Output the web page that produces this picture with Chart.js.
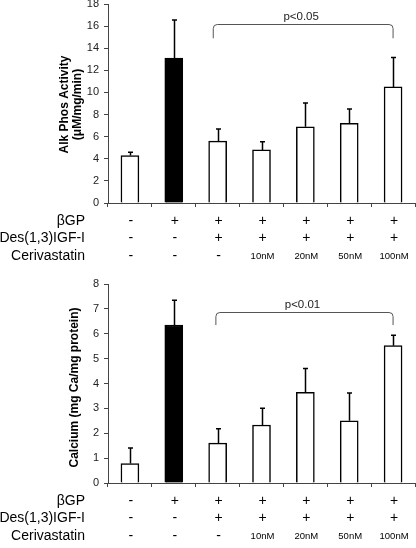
<!DOCTYPE html>
<html>
<head>
<meta charset="utf-8">
<script src="https://cdn.jsdelivr.net/npm/chart.js@4.4.1/dist/chart.umd.min.js"></script>
<style>
  html, body { margin: 0; padding: 0; background: #fff; }
  body { width: 416px; height: 548px; position: relative; overflow: hidden; }
  .panel { position: absolute; left: 0; width: 416px; }
  #alpBox { top: -10px; height: 280px; }
  #caBox { top: 270px; height: 278px; }
</style>
</head>
<body>
<div class="panel" id="alpBox"><canvas id="alpChart"></canvas></div>
<div class="panel" id="caBox"><canvas id="caChart"></canvas></div>
<script>
const columns = ['control', 'bGP', 'bGP+IGF', 'cer10', 'cer20', 'cer50', 'cer100']
const rowNames = ['βGP', 'Des(1,3)IGF-I', 'Cerivastatin']
const bgpRow = ['-', '+', '+', '+', '+', '+', '+']
const igfRow = ['-', '-', '+', '+', '+', '+', '+']
const cerivRow = ['-', '-', '-', '10nM', '20nM', '50nM', '100nM']

const alpValues = [4.3, 13.1, 5.6, 4.8, 6.9, 7.2, 10.5]
const alpErrors = [0.3, 3.45, 1.1, 0.75, 2.15, 1.3, 2.65]
const alpTicks = [0, 2, 4, 6, 8, 10, 12, 14, 16, 18]
const alpBracket = [1.9, 6, 16.2, 14.9]
const alpSig = 'p<0.05'
const alpTitle = ['Alk Phos Activity', '(μM/mg/min)']

const caValues = [0.78, 6.35, 1.6, 2.33, 3.65, 2.5, 5.52]
const caErrors = [0.63, 1.0, 0.58, 0.68, 0.95, 1.12, 0.42]
const caTicks = [0, 1, 2, 3, 4, 5, 6, 7, 8]
const caBracket = [1.96, 6, 6.86, 6.35]
const caSig = 'p<0.01'
const caTitle = ['Calcium (mg Ca/mg protein)']

const FONT = '"Liberation Sans", Arial, sans-serif'

function extrasPlugin(errors, bracket, sig, title, titleX, titleDy) {
    return {
        id: 'extras',
        afterDraw(chart) {
            const ctx = chart.ctx
            const xs = chart.scales.x
            const ys = chart.scales.y
            const meta = chart.getDatasetMeta(0)
            const values = chart.data.datasets[0].data
            ctx.save()

            // error bars
            ctx.strokeStyle = '#000'
            ctx.lineWidth = 1.5
            meta.data.forEach((bar, i) => {
                const x = Math.round(bar.x) + 0.5
                const y0 = ys.getPixelForValue(values[i])
                const y1 = ys.getPixelForValue(values[i] + errors[i])
                ctx.beginPath()
                ctx.moveTo(x, y0)
                ctx.lineTo(x, y1)
                ctx.moveTo(x - 2.5, y1)
                ctx.lineTo(x + 2.5, y1)
                ctx.stroke()
            })

            // significance bracket
            const bx0 = xs.getPixelForValue(bracket[0])
            const bx1 = xs.getPixelForValue(bracket[1])
            const by = Math.round(ys.getPixelForValue(bracket[2])) + 0.5
            const bf = ys.getPixelForValue(bracket[3])
            const r = 4
            ctx.strokeStyle = '#555'
            ctx.lineWidth = 1
            ctx.beginPath()
            ctx.moveTo(bx0, bf)
            ctx.lineTo(bx0, by + r)
            ctx.quadraticCurveTo(bx0, by, bx0 + r, by)
            ctx.lineTo(bx1 - r, by)
            ctx.quadraticCurveTo(bx1, by, bx1, by + r)
            ctx.lineTo(bx1, bf)
            ctx.stroke()
            ctx.fillStyle = '#222'
            ctx.font = '11.5px ' + FONT
            ctx.textAlign = 'center'
            ctx.textBaseline = 'middle'
            ctx.fillText(sig, (bx0 + bx1) / 2 - 2, by - 8)

            // treatment table under the axis
            const rows = [bgpRow, igfRow, cerivRow]
            const rowY = [18, 35.5, 53]
            ctx.fillStyle = '#000'
            rows.forEach((row, r) => {
                const y = chart.chartArea.bottom + rowY[r]
                ctx.font = '14px ' + FONT
                ctx.textAlign = 'right'
                ctx.fillText(rowNames[r], 85, y)
                ctx.textAlign = 'center'
                row.forEach((s, i) => {
                    ctx.font = (s.length > 1 ? '9.5px ' : '14px ') + FONT
                    ctx.fillText(s, meta.data[i].x + 1, y)
                })
            })

            // y axis title
            const cy = (chart.chartArea.top + chart.chartArea.bottom) / 2 + titleDy
            ctx.font = 'bold 12px ' + FONT
            title.forEach((line, k) => {
                ctx.save()
                ctx.translate(titleX[k], cy)
                ctx.rotate(-Math.PI / 2)
                ctx.fillText(line, 0, 0)
                ctx.restore()
            })
            ctx.restore()
        }
    }
}

function makeChart(canvas, values, errors, ticks, bracket, sig, title, titleX, titleDy, xHeight) {
    return new Chart(canvas, {
        type: 'bar',
        data: {
            labels: columns,
            datasets: [{
                data: values,
                backgroundColor: values.map((v, i) => i === 1 ? '#000' : '#fff'),
                borderColor: '#000',
                borderWidth: 1.5,
                barThickness: 18
            }]
        },
        options: {
            responsive: true,
            maintainAspectRatio: false,
            animation: false,
            layout: { padding: { top: 14, right: 1, left: 0, bottom: 0 } },
            plugins: { legend: { display: false }, tooltip: { enabled: false } },
            scales: {
                x: {
                    grid: { drawOnChartArea: false, tickLength: 4, color: '#444' },
                    border: { color: '#444', width: 1 },
                    ticks: { display: false },
                    afterFit: s => { s.height = xHeight }
                },
                y: {
                    min: ticks[0],
                    max: ticks[ticks.length - 1],
                    afterBuildTicks: s => { s.ticks = ticks.map(v => ({ value: v })) },
                    afterFit: s => { s.width = 108 },
                    grid: { drawOnChartArea: false, tickLength: 4, color: '#444' },
                    border: { color: '#444', width: 1 },
                    ticks: { font: { size: 11, family: FONT }, color: '#222', padding: 5 }
                }
            }
        },
        plugins: [extrasPlugin(errors, bracket, sig, title, titleX, titleDy)]
    })
}

makeChart(document.getElementById('alpChart'), alpValues, alpErrors, alpTicks,
    alpBracket, alpSig, alpTitle, [65, 78], 1, 67)
makeChart(document.getElementById('caChart'), caValues, caErrors, caTicks,
    caBracket, caSig, caTitle, [75], 4, 65)
</script>
</body>
</html>
